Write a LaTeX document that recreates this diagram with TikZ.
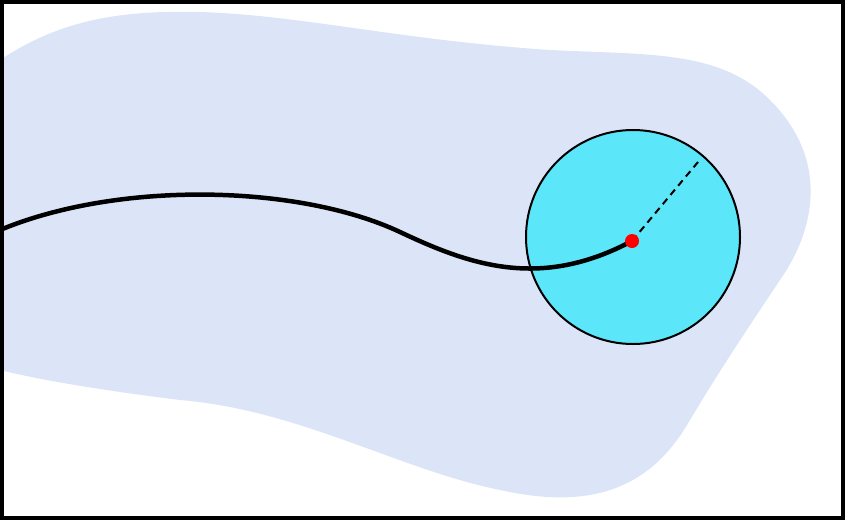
\documentclass[tikz,border=0pt]{standalone}
\begin{document}
\begin{tikzpicture}[x=1pt,y=-1pt]
\definecolor{blob}{HTML}{DCE4F7}
\definecolor{disc}{HTML}{5CE6F9}
\useasboundingbox (0,0) rectangle (845,520);
\fill[blob] (0,60) .. controls (60,20) and (120,10) .. (200,12)
  .. controls (300,15) and (400,40) .. (550,50)
  .. controls (650,55) and (720,50) .. (770,100)
  .. controls (830,160) and (815,230) .. (780,280)
  .. controls (740,340) and (720,370) .. (690,420)
  .. controls (650,490) and (590,510) .. (500,490)
  .. controls (400,470) and (300,410) .. (180,400)
  .. controls (100,390) and (40,380) .. (0,370) -- cycle;
\node[circle,draw,line width=2pt,fill=disc,minimum size=214pt,inner sep=0pt] (c) at (633,237) {};
\coordinate (p) at (632,241);
\coordinate (e) at (698,162);
\coordinate (s) at (0,230);
\draw[line width=2pt,dash pattern=on 7pt off 5pt] (p) -- (e);
\draw[line width=4.5pt] (s) .. controls (120,180) and (300,185) .. (400,232)
  .. controls (470,265) and (540,290) .. (p);
\fill[red] (p) circle (7pt);
\draw[line width=4pt] (2,2) rectangle (843,518);
\end{tikzpicture}
\end{document}
